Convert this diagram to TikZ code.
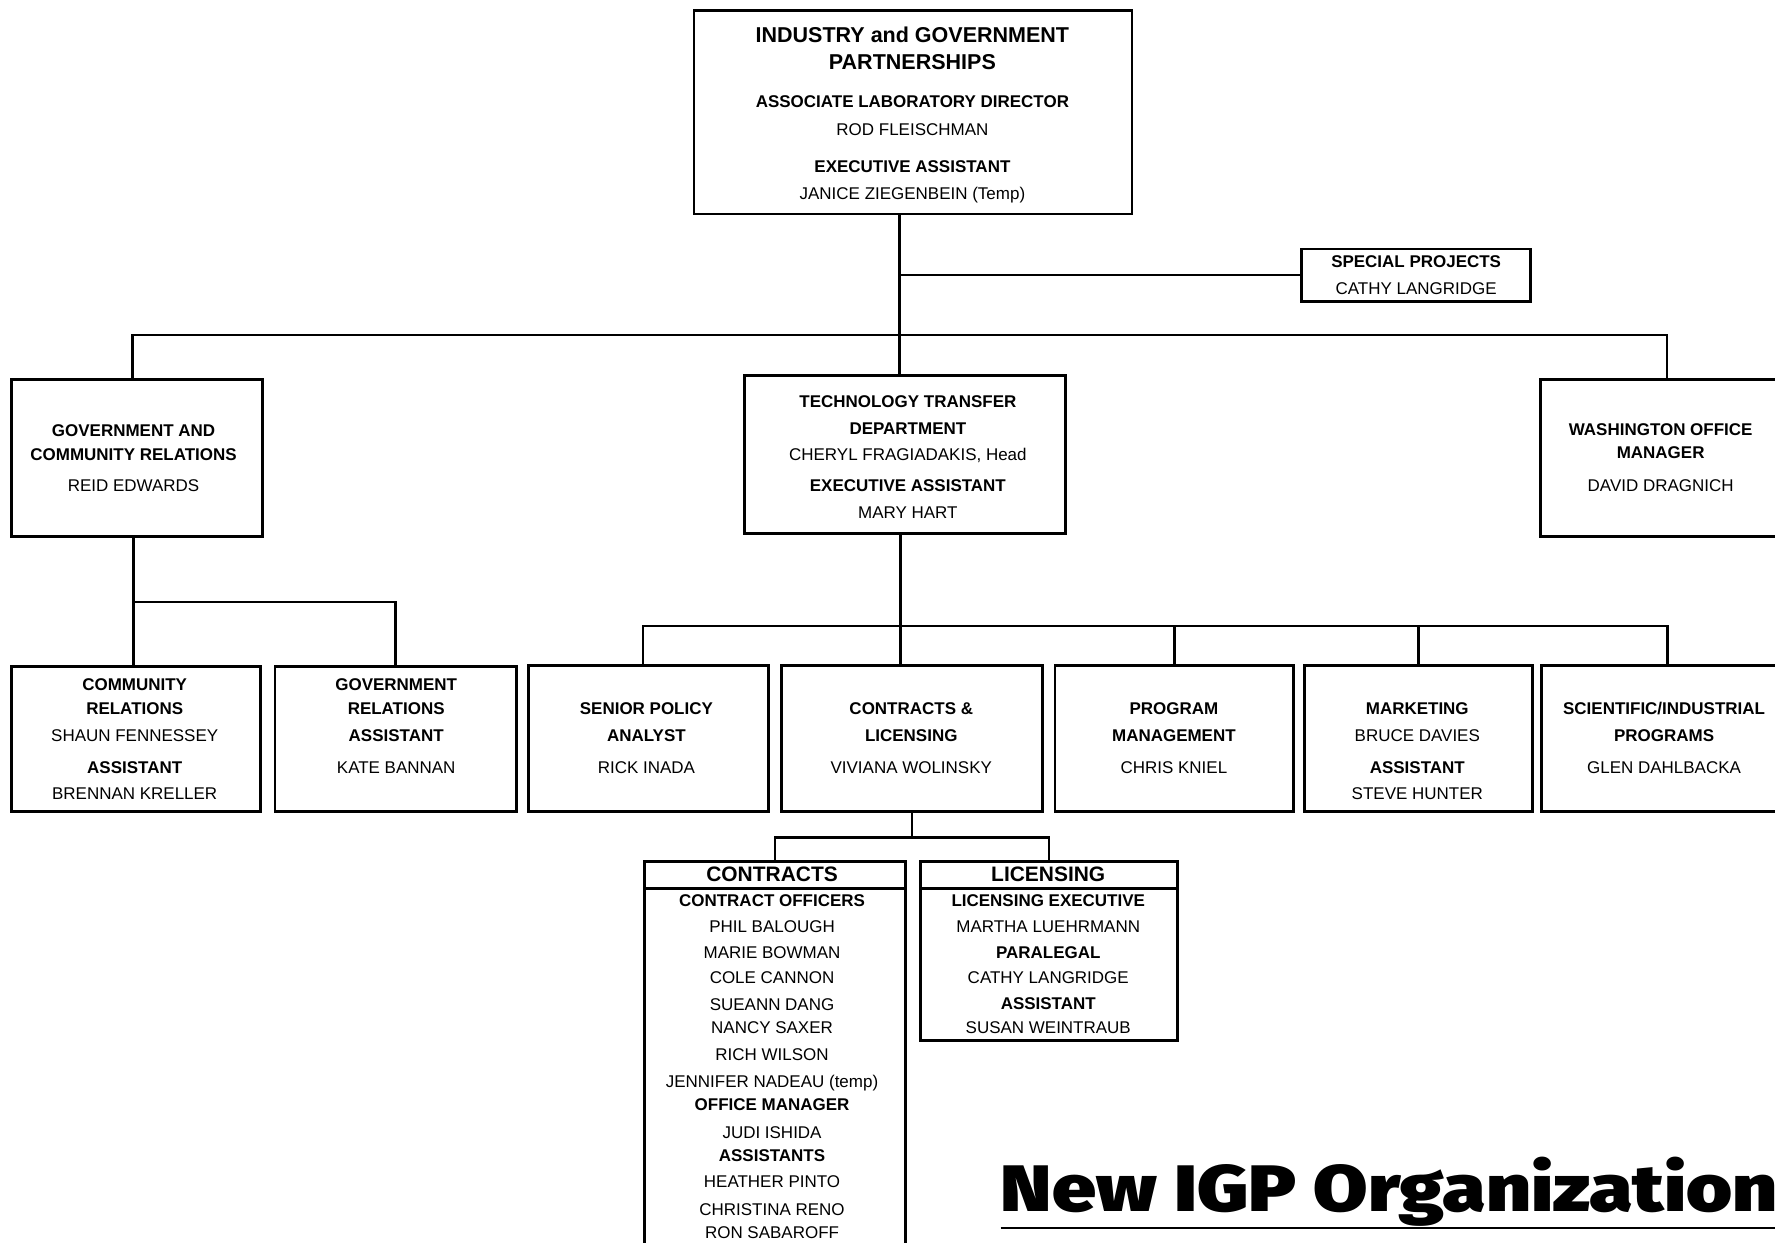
\documentclass[tikz,border=0pt]{standalone}
\usepackage{fontspec}
\setmainfont{Liberation Sans}
\newfontfamily\titlefont{Fira Sans}[UprightFont=* Black]
\newcommand\orgbox[5]{\node[box, minimum width={#4-#2}, minimum height={#5-#3}] (#1) at (#2,#3) {};}
\newcommand\orglines[3]{\foreach \yy/\st/\tx [count=\i] in {#3} {\node[\st] (#1-\i) at (#2,\yy) {\tx};}}
\begin{document}
\begin{tikzpicture}[x=1pt,y=-1pt,
  box/.style={draw, line width=2.5pt, anchor=north west, inner sep=0pt, outer sep=0pt},
  ln/.style={inner sep=0pt, text height=10.8pt, text depth=0pt},
  n/.style={ln, font=\fontsize{15}{18}\selectfont},
  b/.style={ln, font=\fontsize{15}{18}\selectfont\bfseries},
  h/.style={inner sep=0pt, text height=13.6pt, text depth=0pt, font=\fontsize{19}{22}\selectfont\bfseries},
  hh/.style={inner sep=0pt, text height=13.3pt, text depth=0pt, font=\fontsize{18.5}{22}\selectfont\bfseries},
  conn/.style={line width=2.2pt}]
\useasboundingbox (0,0) rectangle (1568,1098);

% boxes
\orgbox{top}{613}{9}{1000}{189}
\orgbox{sp}{1150}{220}{1352}{266}
\orgbox{gcr}{10}{335}{232}{474}
\orgbox{tt}{658}{332}{941}{471}
\orgbox{wash}{1361}{335}{1580}{474}
\orgbox{cr}{10}{589}{230}{717}
\orgbox{gr}{243}{589}{456}{717}
\orgbox{spa}{467}{588}{679}{717}
\orgbox{cl}{690}{588}{921}{717}
\orgbox{pm}{932}{588}{1143}{717}
\orgbox{mk}{1152}{588}{1354}{717}
\orgbox{sci}{1362}{588}{1580}{717}
\orgbox{con}{569}{761}{800}{1120}
\orgbox{lic}{813}{761}{1040}{919}
\draw[line width=2.2pt] ([yshift=-24pt]con.north west) -- ([yshift=-24pt]con.north east);
\draw[line width=2.2pt] ([yshift=-24pt]lic.north west) -- ([yshift=-24pt]lic.north east);

% texts
\orglines{top}{806}{31/h/INDUSTRY and GOVERNMENT, 55/h/PARTNERSHIPS, 90/b/ASSOCIATE LABORATORY DIRECTOR, 114/n/ROD FLEISCHMAN, 147/b/EXECUTIVE ASSISTANT, 171/n/JANICE ZIEGENBEIN (Temp)}
\orglines{sp}{1251}{231/b/SPECIAL PROJECTS, 255/n/CATHY LANGRIDGE}
\orglines{gcr}{118}{380/b/GOVERNMENT AND, 401/b/COMMUNITY RELATIONS, 429/n/REID EDWARDS}
\orglines{tt}{802}{355/b/TECHNOLOGY TRANSFER, 378/b/DEPARTMENT, 401/n/{CHERYL FRAGIADAKIS, Head}, 429/b/EXECUTIVE ASSISTANT, 453/n/MARY HART}
\orglines{wash}{1467}{379/b/WASHINGTON OFFICE, 400/b/MANAGER, 429/n/DAVID DRAGNICH}
\orglines{cr}{119}{605/b/COMMUNITY, 626/b/RELATIONS, 650/n/SHAUN FENNESSEY, 678/b/ASSISTANT, 701/n/BRENNAN KRELLER}
\orglines{gr}{350}{605/b/GOVERNMENT, 626/b/RELATIONS, 650/b/ASSISTANT, 678/n/KATE BANNAN}
\orglines{spa}{571}{626/b/SENIOR POLICY, 650/b/ANALYST, 678/n/RICK INADA}
\orglines{cl}{805}{626/b/CONTRACTS \&, 650/b/LICENSING, 678/n/VIVIANA WOLINSKY}
\orglines{pm}{1037}{626/b/PROGRAM, 650/b/MANAGEMENT, 678/n/CHRIS KNIEL}
\orglines{mk}{1252}{626/b/MARKETING, 650/n/BRUCE DAVIES, 678/b/ASSISTANT, 701/n/STEVE HUNTER}
\orglines{sci}{1470}{626/b/{SCIENTIFIC/INDUSTRIAL}, 650/b/PROGRAMS, 678/n/GLEN DAHLBACKA}
\orglines{con}{682}{772/hh/CONTRACTS, 795/b/CONTRACT OFFICERS, 818/n/PHIL BALOUGH, 841/n/MARIE BOWMAN, 863/n/COLE CANNON, 887/n/SUEANN DANG, 908/n/NANCY SAXER, 931/n/RICH WILSON, 955/n/JENNIFER NADEAU (temp), 976/b/OFFICE MANAGER, 1000/n/JUDI ISHIDA, 1021/b/ASSISTANTS, 1044/n/HEATHER PINTO, 1068/n/CHRISTINA RENO, 1089/n/RON SABAROFF}
\orglines{lic}{926}{772/hh/LICENSING, 795/b/LICENSING EXECUTIVE, 818/n/MARTHA LUEHRMANN, 841/b/PARALEGAL, 863/n/CATHY LANGRIDGE, 886/b/ASSISTANT, 908/n/SUSAN WEINTRAUB}

% connector anchors
\coordinate (bus1) at (0,296);
\coordinate (bus2) at (0,553);
\coordinate (bus3) at (0,532);
\coordinate (bus4) at (0,740);
\coordinate (ttn) at ([xshift=-5pt]tt.north);
\coordinate (tts) at ([xshift=-4pt]tt.south);
\coordinate (gcrn) at ([xshift=-4pt]gcr.north);
\coordinate (gcrs) at ([xshift=-3pt]gcr.south);
\coordinate (washn) at ([xshift=2pt]wash.north);
\coordinate (span) at ([xshift=-5pt]spa.north);
\coordinate (scin) at ([xshift=2pt]sci.north);

% connectors
\draw[conn] (ttn) -- (ttn |- top.south);
\draw[conn] (sp.west) -- (sp.west -| ttn);
\draw[conn] (gcrn) |- (washn |- bus1) -- (washn);
\draw[conn] (gcrs) -- (gcrs |- cr.north);
\draw[conn] (gcrs |- bus3) -| (gr.north);
\draw[conn] (tts) -- (tts |- cl.north);
\draw[conn] (span) |- (scin |- bus2) -- (scin);
\draw[conn] (pm.north) -- (pm.north |- bus2);
\draw[conn] (mk.north) -- (mk.north |- bus2);
\draw[conn] (cl.south) -- (cl.south |- bus4);
\draw[conn] (con.north) |- (lic.north |- bus4) -- (lic.north);

% title
\node[anchor=base west, inner sep=0pt, xscale=1.2, font=\titlefont\fontsize{58}{60}\selectfont] (title) at (884,1070) {New IGP Organization};
\coordinate (ulend) at (1570,1085);
\draw[line width=1.6pt] (title.base west |- ulend) -- (ulend);
\end{tikzpicture}
\end{document}
